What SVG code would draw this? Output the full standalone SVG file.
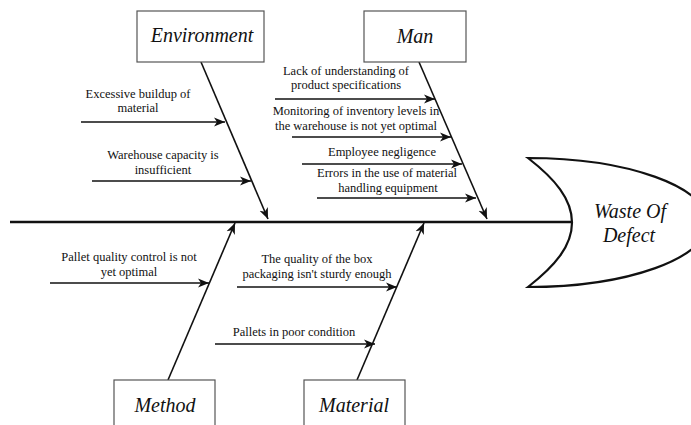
<svg xmlns="http://www.w3.org/2000/svg" width="691" height="425" viewBox="0 0 691 425">
  <style>
    .box { fill: #ffffff; stroke: #555555; stroke-width: 1.2; }
    .cat { font-family: "Liberation Serif", "Times New Roman", serif; font-style: italic; font-size: 20px; fill: #111111; text-anchor: middle; }
    .cause { font-family: "Liberation Serif", "Times New Roman", serif; font-size: 12.5px; fill: #111111; text-anchor: middle; }
    .bone { fill: none; stroke: #111111; stroke-width: 1.6; }
    .spine { fill: none; stroke: #111111; stroke-width: 2.6; }
    .head { fill: #ffffff; stroke: #111111; stroke-width: 2.2; }
  </style>
  <defs>
    <marker id="arrow" markerUnits="userSpaceOnUse" markerWidth="12" markerHeight="10" viewBox="0 0 12 10" refX="11" refY="5" orient="auto">
      <path d="M0,0.5 L11,5 L0,9.5 L3,5 Z" fill="#111111"/>
    </marker>
  </defs>

  <rect width="691" height="425" fill="#ffffff"/>

  <!-- connectors: spine, category bones and cause arrows -->
  <g id="connectors">
    <line class="spine" x1="10" y1="222" x2="572" y2="222"/>
    <line class="bone" x1="201" y1="62" x2="268" y2="219" marker-end="url(#arrow)"/>
    <line class="bone" x1="419" y1="62" x2="487" y2="219" marker-end="url(#arrow)"/>
    <line class="bone" x1="168" y1="380" x2="235" y2="223" marker-end="url(#arrow)"/>
    <line class="bone" x1="357" y1="380" x2="424" y2="223" marker-end="url(#arrow)"/>

    <line class="bone" x1="81" y1="122" x2="225" y2="122" marker-end="url(#arrow)"/>
    <line class="bone" x1="92" y1="181" x2="251" y2="181" marker-end="url(#arrow)"/>
    <line class="bone" x1="275" y1="99" x2="435" y2="99" marker-end="url(#arrow)"/>
    <line class="bone" x1="292" y1="137" x2="451" y2="137" marker-end="url(#arrow)"/>
    <line class="bone" x1="302" y1="164" x2="462" y2="164" marker-end="url(#arrow)"/>
    <line class="bone" x1="317" y1="198" x2="476" y2="198" marker-end="url(#arrow)"/>
    <line class="bone" x1="50" y1="283" x2="209" y2="283" marker-end="url(#arrow)"/>
    <line class="bone" x1="237" y1="287" x2="397" y2="287" marker-end="url(#arrow)"/>
    <line class="bone" x1="215" y1="344" x2="375" y2="344" marker-end="url(#arrow)"/>
  </g>

  <!-- cause labels -->
  <g id="environment-causes">
    <text class="cause" x="138" y="98">Excessive buildup of</text>
    <text class="cause" x="138" y="112">material</text>
    <text class="cause" x="163" y="159">Warehouse capacity is</text>
    <text class="cause" x="163" y="174">insufficient</text>
  </g>
  <g id="man-causes">
    <text class="cause" x="346" y="75">Lack of understanding of</text>
    <text class="cause" x="346" y="89">product specifications</text>
    <text class="cause" x="356" y="115">Monitoring of inventory levels in</text>
    <text class="cause" x="356" y="130">the warehouse is not yet optimal</text>
    <text class="cause" x="382" y="156">Employee negligence</text>
    <text class="cause" x="387" y="177">Errors in the use of material</text>
    <text class="cause" x="388" y="192">handling equipment</text>
  </g>
  <g id="method-causes">
    <text class="cause" x="129" y="261">Pallet quality control is not</text>
    <text class="cause" x="129" y="276">yet optimal</text>
  </g>
  <g id="material-causes">
    <text class="cause" x="317" y="263">The quality of the box</text>
    <text class="cause" x="317" y="278">packaging isn't sturdy enough</text>
    <text class="cause" x="294" y="336">Pallets in poor condition</text>
  </g>

  <!-- category boxes -->
  <g id="environment">
    <rect class="box" x="137" y="11" width="127" height="51"/>
    <text class="cat" x="202" y="42">Environment</text>
  </g>
  <g id="man">
    <rect class="box" x="364" y="11" width="102" height="51"/>
    <text class="cat" x="415" y="43">Man</text>
  </g>
  <g id="method">
    <rect class="box" x="114" y="380" width="101" height="55"/>
    <text class="cat" x="165" y="412">Method</text>
  </g>
  <g id="material">
    <rect class="box" x="304" y="380" width="101" height="55"/>
    <text class="cat" x="354" y="412">Material</text>
  </g>

  <!-- fish head with the effect -->
  <g id="effect">
    <path class="head" d="M528,158 A180,64.5 0 0 1 528,287 C555,266 572,246 572,222.5 C572,199 555,179 528,158 Z"/>
    <text class="cat" x="630" y="218">Waste Of</text>
    <text class="cat" x="629" y="242">Defect</text>
  </g>
</svg>
